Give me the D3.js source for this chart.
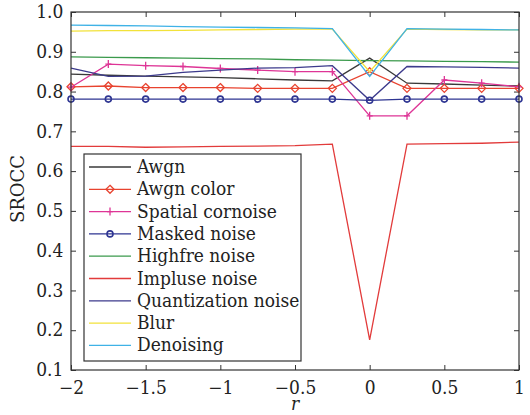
<!DOCTYPE html>
<html><head><meta charset="utf-8">
<script src="https://cdn.jsdelivr.net/npm/d3@7"></script>
<style>
body{margin:0;background:#fff}svg{display:block}
svg text{font-family:"DejaVu Serif",serif;}
</style>
</head><body>
<svg id="c" width="530" height="415"></svg>
<script>
const rValues = [-2,-1.75,-1.5,-1.25,-1,-0.75,-0.5,-0.25,0,0.25,0.5,0.75,1];
const awgn       = [0.844,0.841,0.839,0.837,0.835,0.832,0.829,0.827,0.884,0.821,0.819,0.816,0.814];
const awgnColor  = [0.812,0.814,0.810,0.810,0.810,0.808,0.808,0.808,0.850,0.808,0.808,0.808,0.808];
const spatial    = [0.811,0.869,0.865,0.863,0.858,0.854,0.850,0.850,0.739,0.739,0.829,0.821,0.812];
const masked     = [0.781,0.781,0.781,0.781,0.781,0.781,0.781,0.781,0.778,0.781,0.781,0.781,0.781];
const highfre    = [0.887,0.886,0.885,0.884,0.883,0.882,0.880,0.879,0.878,0.877,0.876,0.875,0.874];
const impulse    = [0.662,0.662,0.660,0.661,0.662,0.663,0.664,0.668,0.176,0.668,0.669,0.670,0.673];
const quant      = [0.859,0.838,0.839,0.848,0.854,0.859,0.860,0.865,0.778,0.863,0.862,0.861,0.859];
const blur       = [0.952,0.953,0.953,0.954,0.955,0.956,0.957,0.957,0.850,0.957,0.956,0.955,0.955];
const denoising  = [0.967,0.966,0.965,0.963,0.962,0.961,0.960,0.958,0.838,0.958,0.957,0.956,0.955];
const seriesNames = ["Awgn","Awgn color","Spatial cornoise","Masked noise","Highfre noise","Impluse noise","Quantization noise","Blur","Denoising"];
const seriesColors = ["#3a3a3a","#e8432f","#de3596","#2e3592","#3b9a4c","#e23b3b","#3c3a8c","#f2e23a","#3fb2e6"];
const seriesMarkers = ["none","diamond","plus","circle","none","none","none","none","none"];
const xTicks = [-2,-1.5,-1,-0.5,0,0.5,1];
const yTicks = [0.1,0.2,0.3,0.4,0.5,0.6,0.7,0.8,0.9,1.0];
const seriesData = [awgn,awgnColor,spatial,masked,highfre,impulse,quant,blur,denoising];

const svg = d3.select("#c");
const L=71, R=519, T=12, B=370;
const x = d3.scaleLinear().domain([-2,1]).range([L,R]);
const y = d3.scaleLinear().domain([0.1,1.0]).range([B,T]);
const FS = 18;
const SX = "scale(0.95,1)";
const TXT = "#222";

function drawMarker(g, type, cx, cy, color){
  if(type==="diamond"){
    g.append("path").attr("d",`M${cx},${cy-4}L${cx+4},${cy}L${cx},${cy+4}L${cx-4},${cy}Z`)
      .attr("fill","none").attr("stroke",color).attr("stroke-width",1.3);
  } else if(type==="circle"){
    g.append("circle").attr("cx",cx).attr("cy",cy).attr("r",3)
      .attr("fill","none").attr("stroke",color).attr("stroke-width",1.6);
  } else if(type==="plus"){
    g.append("path").attr("d",`M${cx-3},${cy}H${cx+3}M${cx},${cy-4}V${cy+4}`)
      .attr("stroke",color).attr("stroke-width",1.3);
  }
}

const gx = svg.append("g").attr("transform",`translate(0,${B})`)
  .call(d3.axisBottom(x).tickValues(xTicks).tickSizeInner(-5).tickSizeOuter(0).tickPadding(11).tickFormat(d3.format("")));
const gxt = svg.append("g").attr("transform",`translate(0,${T})`)
  .call(d3.axisTop(x).tickValues(xTicks).tickSizeInner(-5).tickSizeOuter(0).tickFormat(""));
const gy = svg.append("g").attr("transform",`translate(${L},0)`)
  .call(d3.axisLeft(y).tickValues(yTicks).tickSizeInner(-5).tickSizeOuter(0).tickPadding(8).tickFormat(d3.format(".1f")));
const gyr = svg.append("g").attr("transform",`translate(${R},0)`)
  .call(d3.axisRight(y).tickValues(yTicks).tickSizeInner(-5).tickSizeOuter(0).tickFormat(""));
[gx,gxt,gy,gyr].forEach(g=>{
  g.select(".domain").remove();
  g.attr("font-family",null).attr("font-size",FS);
  g.selectAll("line").attr("stroke","#333");
  g.selectAll("text").attr("font-size",FS).attr("fill",TXT).attr("transform",SX);
});

const line = d3.line().x((d,i)=>x(rValues[i])).y(d=>y(d));
const plot = svg.append("g");
seriesData.forEach((vals,k)=>{
  plot.append("path").attr("d",line(vals)).attr("fill","none")
    .attr("stroke",seriesColors[k]).attr("stroke-width",1.3);
  if(seriesMarkers[k]!=="none"){
    vals.forEach((v,i)=>drawMarker(plot,seriesMarkers[k],x(rValues[i]),y(v),seriesColors[k]));
  }
});

svg.append("rect").attr("x",L).attr("y",T).attr("width",R-L).attr("height",B-T)
  .attr("fill","none").attr("stroke","#333").attr("stroke-width",1.2);

const lg = svg.append("g");
lg.append("rect").attr("x",84).attr("y",154).attr("width",217).attr("height",207)
  .attr("fill","#fff").attr("stroke","#333").attr("stroke-width",1.2);
seriesNames.forEach((name,k)=>{
  const cy = 167 + k*22.3;
  lg.append("line").attr("x1",89).attr("x2",131).attr("y1",cy).attr("y2",cy)
    .attr("stroke",seriesColors[k]).attr("stroke-width",1.3);
  if(seriesMarkers[k]!=="none") drawMarker(lg,seriesMarkers[k],110,cy,seriesColors[k]);
  lg.append("text").attr("transform",`translate(137,${cy+6}) ${SX}`)
    .attr("font-size",FS).attr("fill",TXT).text(name);
});

svg.append("text").attr("transform",`translate(295,410) ${SX}`).attr("text-anchor","middle")
  .attr("font-size",FS).attr("font-style","italic").attr("fill",TXT).text("r");
svg.append("text").attr("transform",`translate(24,189) rotate(-90)`).attr("text-anchor","middle")
  .attr("font-size",FS).attr("fill",TXT).text("SROCC");
</script>
</body></html>
